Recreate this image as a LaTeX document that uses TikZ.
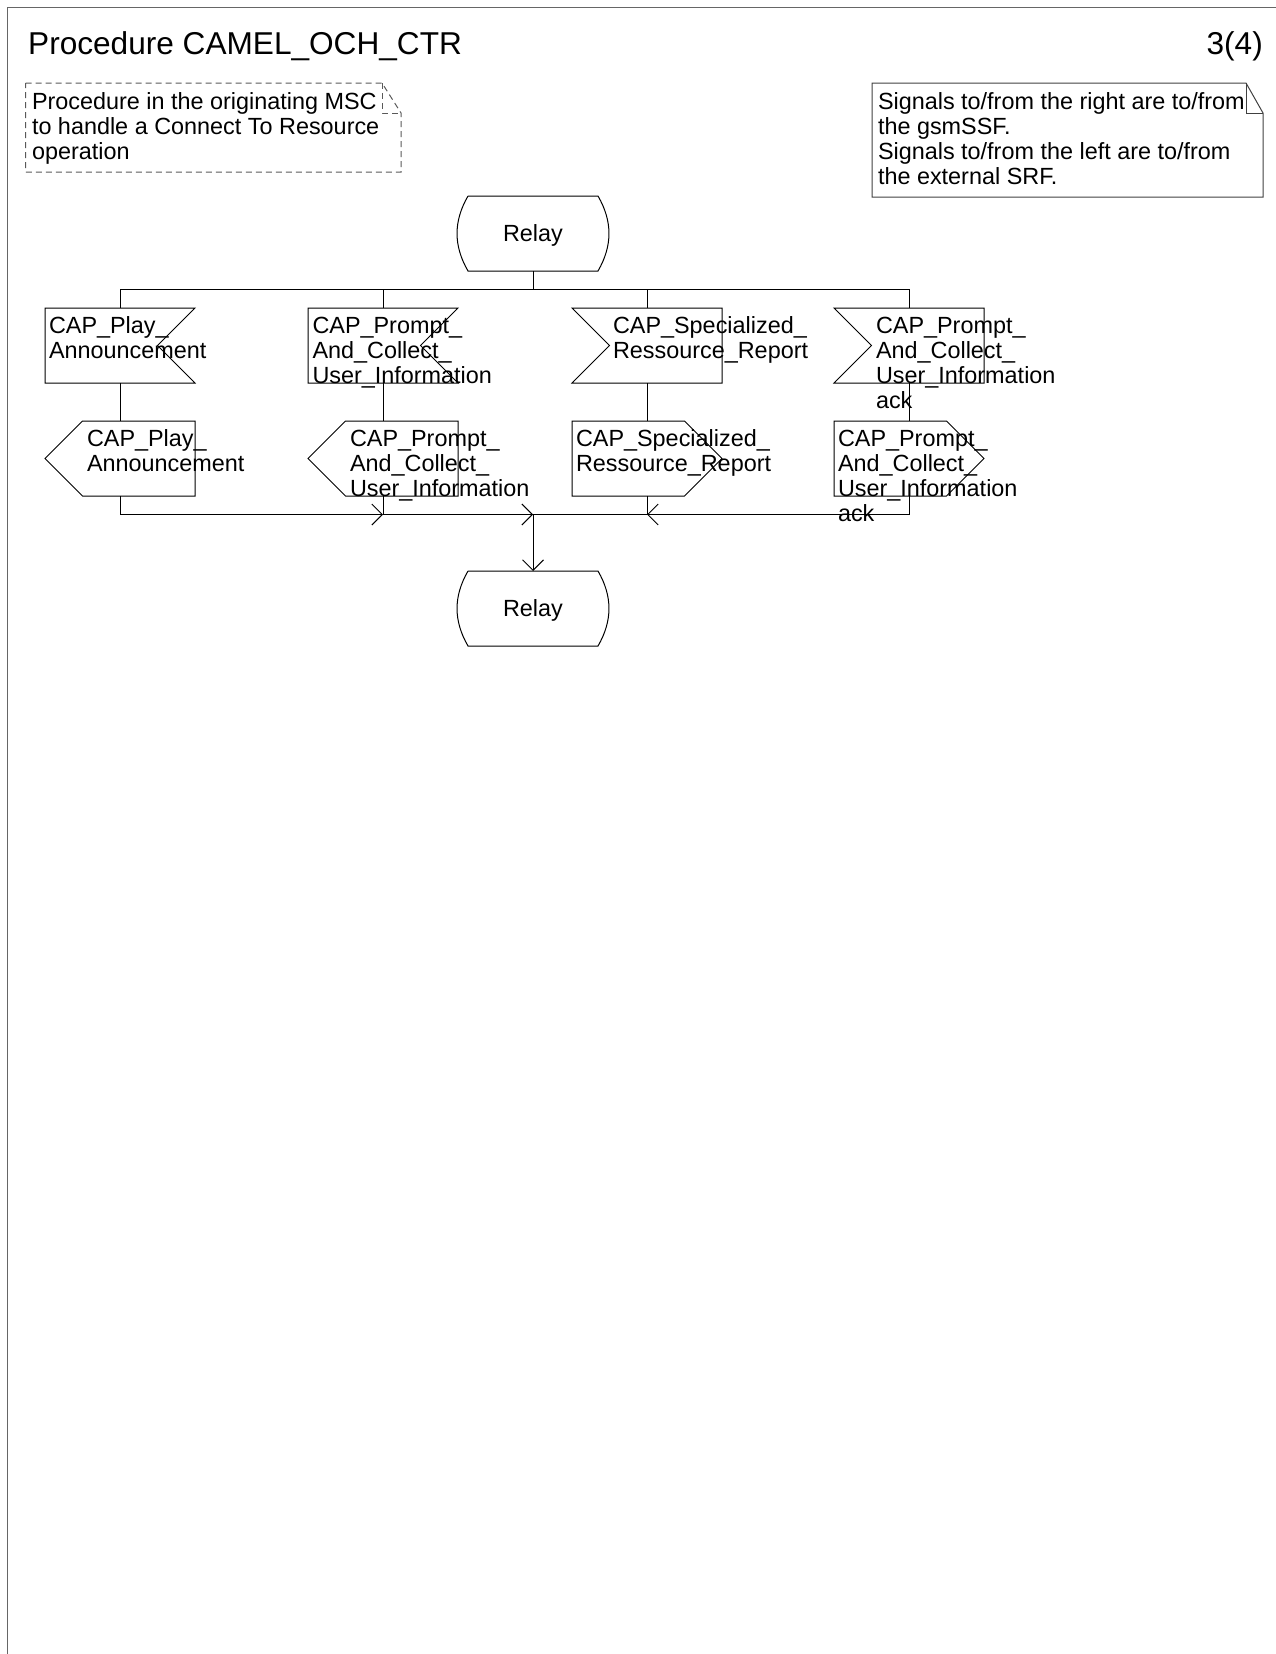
\documentclass[tikz,border=0pt]{standalone}
\usepackage{fontspec}
\setmainfont{Liberation Sans}
\usetikzlibrary{arrows.meta,calc}
\begin{document}
\begin{tikzpicture}[x=1pt,y=-1pt,
  symbox/.style={draw=none,minimum width=150pt,minimum height=75pt,inner sep=0pt,outer sep=0pt},
  relaybox/.style={symbox,font=\fontsize{23.4}{25}\selectfont,text height=16pt,text depth=0pt},
  symline/.style={line width=1pt,black,line join=miter},
  lbl/.style={font=\fontsize{23.4}{25}\selectfont,align=left,anchor=north west,inner sep=0pt,outer sep=0pt},
  conn/.style={line width=1pt,black},
  arr/.style={-{Straight Barb[length=10.5pt,width=21pt,line width=1pt]}},
  notesolid/.style={line width=1pt,black!75,line join=miter},
  notedash/.style={line width=1pt,black!65,dash pattern=on 6pt off 4pt}
]
\useasboundingbox (0,0) rectangle (1276,1654);
% frame
\draw[line width=1.3pt,black!60] (7.5,1654) -- (7.5,7.5) -- (1276,7.5);
% title
\node[anchor=base west,inner sep=0pt,font=\fontsize{31.6}{38}\selectfont] (title) at (28,55) {Procedure CAMEL\_OCH\_CTR};
\node[anchor=base east,inner sep=0pt,font=\fontsize{31.6}{38}\selectfont] (page) at (1263,55) {3(4)};
% dashed note
\draw[notedash] (25.7,83) -- (382,83) -- (401,113) -- (401,172) -- (25.7,172) -- cycle;
\draw[notedash] (382,83) -- (382,113) -- (401,113);
\node[lbl] (n1t) at (32,93) {Procedure in the originating MSC\\to handle a Connect To Resource\\operation};
% solid note
\draw[notesolid] (872,83) -- (1246,83) -- (1263,113) -- (1263,197) -- (872,197) -- cycle;
\draw[notesolid] (1246,83) -- (1246,113) -- (1263,113);
\node[lbl] (n2t) at (878,93) {Signals to/from the right are to/from\\the gsmSSF.\\Signals to/from the left are to/from\\the external SRF.};
% relay states
\node[relaybox] (r1) at (533,233.5) {Relay};
\node[relaybox] (r2) at (533,608.5) {Relay};
\foreach \r in {r1,r2}{
  \draw[symline] ([xshift=10pt]\r.north west) -- ([xshift=-10pt]\r.north east) to[bend left=30] ([xshift=-10pt]\r.south east) -- ([xshift=10pt]\r.south west) to[bend left=30] ([xshift=10pt]\r.north west);
}
% symbols
\node[symbox] (i1) at (120,345.5) {};
\node[symbox] (i2) at (383,345.5) {};
\node[symbox] (i3) at (647,345.5) {};
\node[symbox] (i4) at (909,345.5) {};
\node[symbox] (o1) at (120,458.5) {};
\node[symbox] (o2) at (383,458.5) {};
\node[symbox] (o3) at (647,458.5) {};
\node[symbox] (o4) at (909,458.5) {};
% inputs from left (notch on right)
\foreach \s in {i1,i2}{
  \draw[symline] (\s.north west) -- (\s.north east) -- ([xshift=-37.5pt]\s.east) -- (\s.south east) -- (\s.south west) -- cycle;
}
% inputs from right (notch on left)
\foreach \s in {i3,i4}{
  \draw[symline] (\s.north east) -- (\s.north west) -- ([xshift=37.5pt]\s.west) -- (\s.south west) -- (\s.south east) -- cycle;
}
% outputs to left
\foreach \s in {o1,o2}{
  \draw[symline] (\s.west) -- ([xshift=37.5pt]\s.north west) -- (\s.north east) -- (\s.south east) -- ([xshift=37.5pt]\s.south west) -- cycle;
}
% outputs to right
\foreach \s in {o3,o4}{
  \draw[symline] (\s.north west) -- ([xshift=-37.5pt]\s.north east) -- (\s.east) -- ([xshift=-37.5pt]\s.south east) -- (\s.south west) -- cycle;
}
% labels
\node[lbl] (ti1) at ([xshift=4pt,yshift=-9pt]i1.north west) {CAP\_Play\_\\Announcement};
\node[lbl] (ti2) at ([xshift=4.5pt,yshift=-9pt]i2.north west) {CAP\_Prompt\_\\And\_Collect\_\\User\_Information};
\node[lbl] (ti3) at ([xshift=41pt,yshift=-9pt]i3.north west) {CAP\_Specialized\_\\Ressource\_Report};
\node[lbl] (ti4) at ([xshift=42pt,yshift=-9pt]i4.north west) {CAP\_Prompt\_\\And\_Collect\_\\User\_Information\\ack};
\node[lbl] (to1) at ([xshift=42pt,yshift=-9pt]o1.north west) {CAP\_Play\_\\Announcement};
\node[lbl] (to2) at ([xshift=42pt,yshift=-9pt]o2.north west) {CAP\_Prompt\_\\And\_Collect\_\\User\_Information};
\node[lbl] (to3) at ([xshift=4pt,yshift=-9pt]o3.north west) {CAP\_Specialized\_\\Ressource\_Report};
\node[lbl] (to4) at ([xshift=4pt,yshift=-9pt]o4.north west) {CAP\_Prompt\_\\And\_Collect\_\\User\_Information\\ack};
% connectors
\coordinate (bt) at (533,289);
\coordinate (bb) at (533,514.5);
\draw[conn] (r1.south) -- (r1.south |- bt);
\draw[conn] (i1.north) -- (i1.north |- bt) -- (i4.north |- bt) -- (i4.north);
\draw[conn] (i2.north |- bt) -- (i2.north);
\draw[conn] (i3.north |- bt) -- (i3.north);
\draw[conn] (i1.south) -- (o1.north);
\draw[conn] (i2.south) -- (o2.north);
\draw[conn] (i3.south) -- (o3.north);
\draw[conn] (i4.south) -- (o4.north);
\draw[conn,arr] (o1.south) -- (o1.south |- bb) -- (o2.south |- bb);
\draw[conn] (o2.south) -- (o2.south |- bb);
\draw[conn,arr] (o2.south |- bb) -- (r2.north |- bb);
\draw[conn,arr] (o4.south) -- (o4.south |- bb) -- (o3.south |- bb);
\draw[conn] (o3.south) -- (o3.south |- bb) -- (r2.north |- bb);
\draw[conn,arr] (r2.north |- bb) -- (r2.north);
\end{tikzpicture}
\end{document}
